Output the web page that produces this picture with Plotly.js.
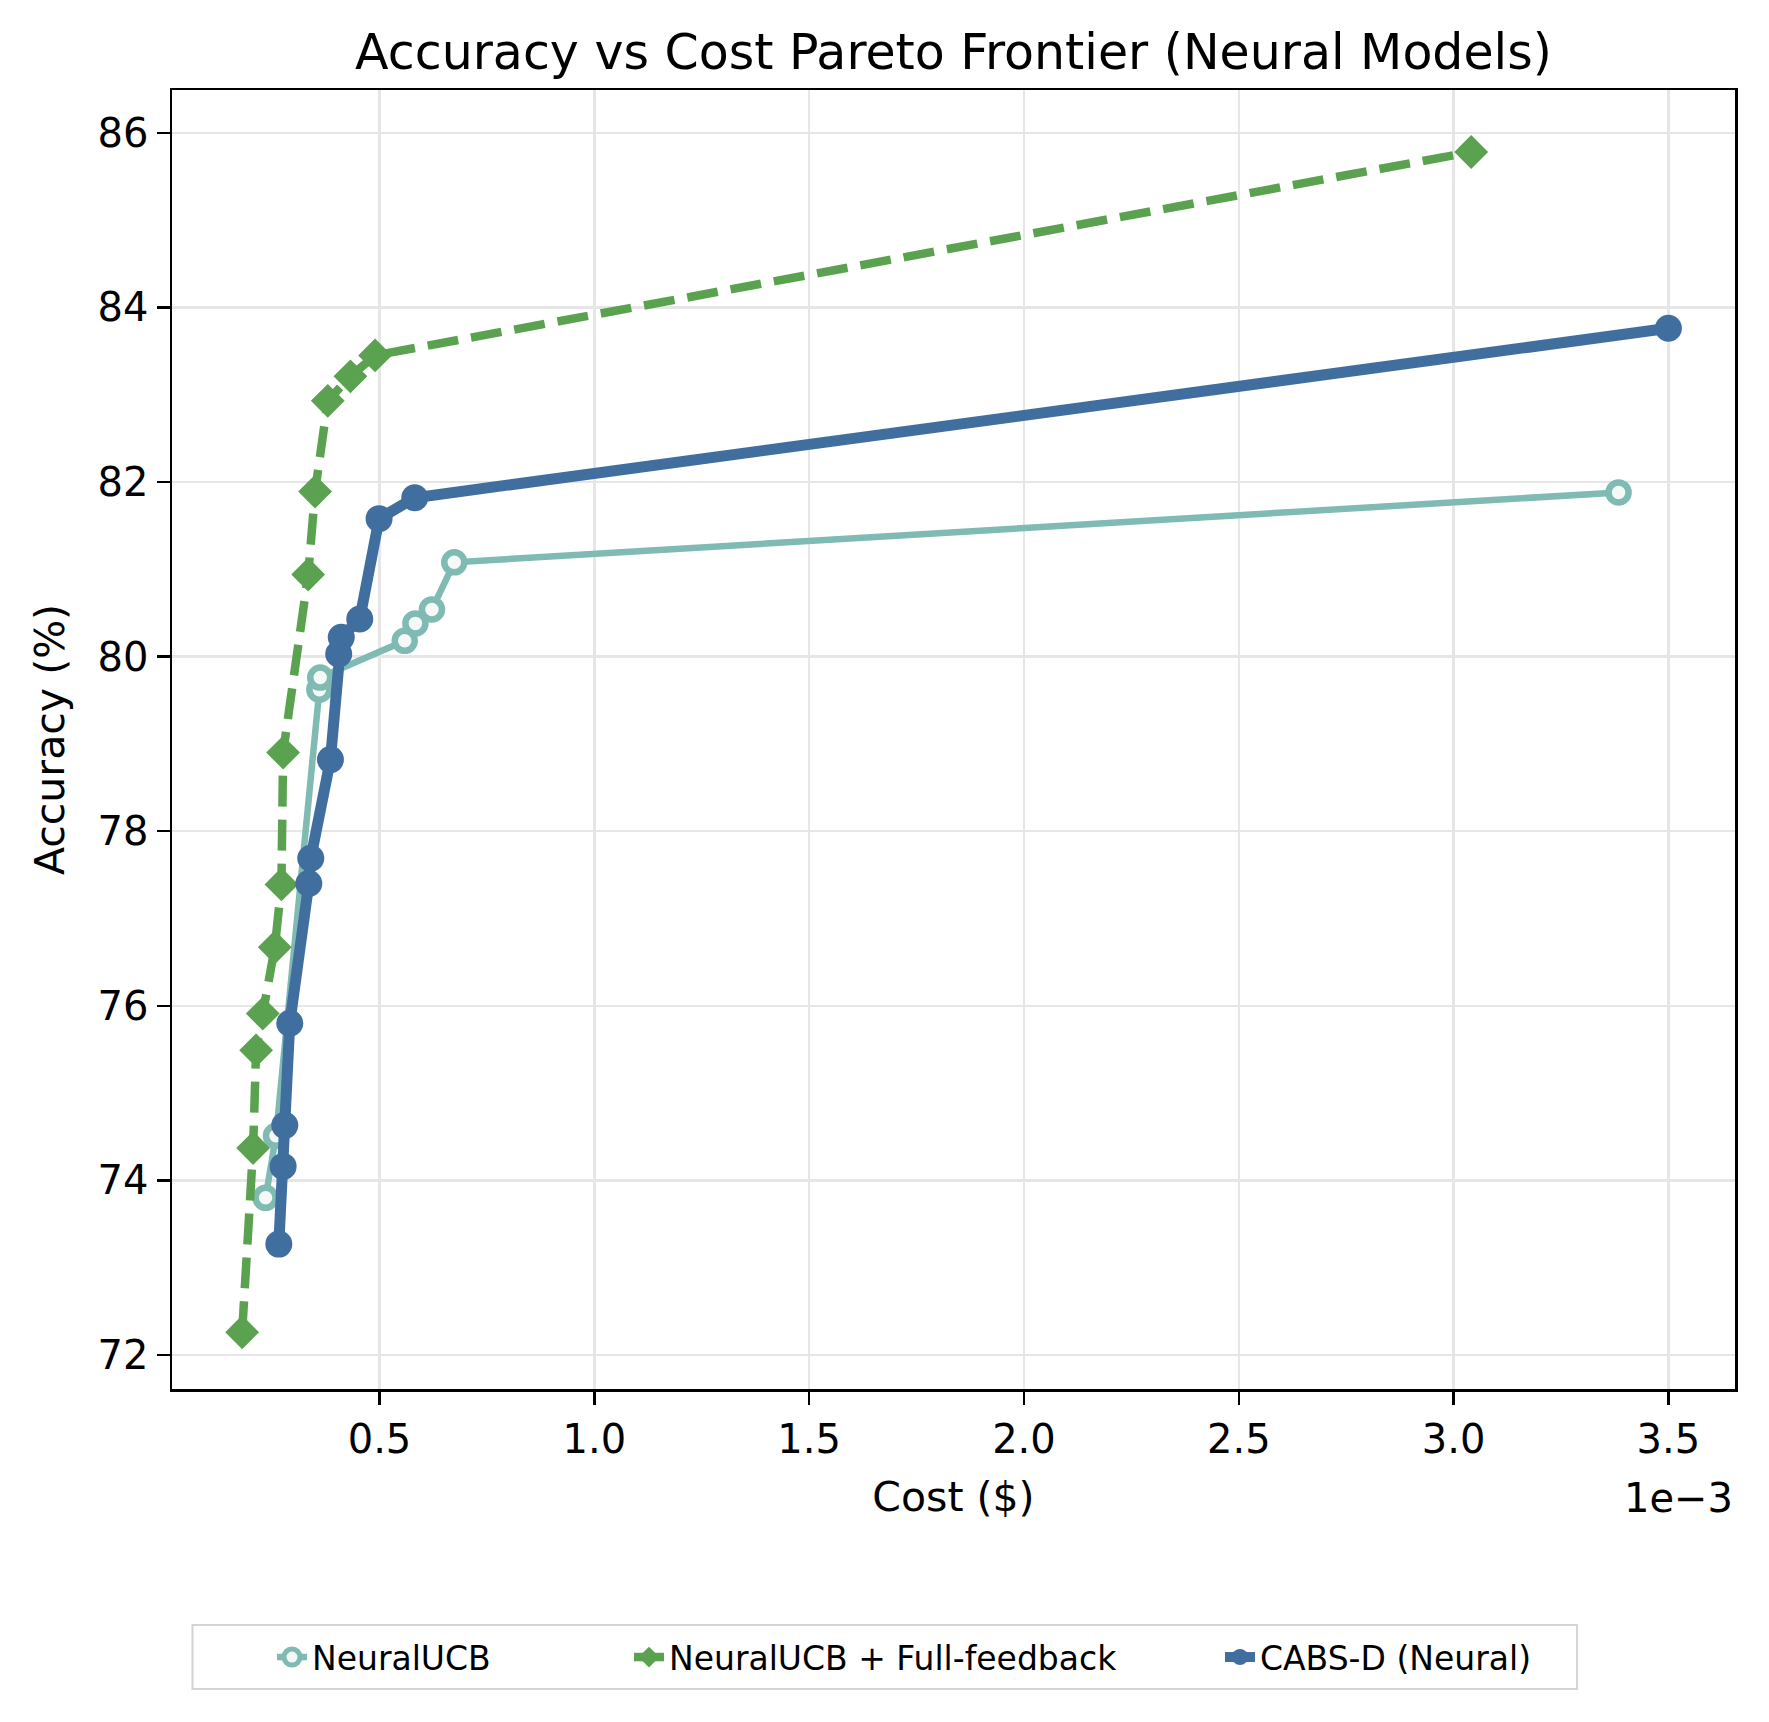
<!DOCTYPE html>
<html>
<head>
<meta charset="utf-8">
<script src="https://cdn.plot.ly/plotly-3.0.1.min.js"></script>
<style>
  html, body { margin: 0; padding: 0; background: #ffffff; }
  #chart { width: 1769px; height: 1722px; }
</style>
</head>
<body>
<div id="chart"></div>
<script>
// Cost per query (in $) and accuracy (%) for each method's Pareto frontier
const neuralUcbCost = [0.0002348, 0.000259, 0.000360, 0.000362, 0.0005587, 0.0005835, 0.000622, 0.000674, 0.003384];
const neuralUcbAcc  = [73.80, 74.51, 79.62, 79.76, 80.18, 80.38, 80.54, 81.08, 81.88];

const fullFeedbackCost = [0.0001803, 0.0002058, 0.0002128, 0.0002283, 0.0002563, 0.0002717, 0.0002756, 0.000334, 0.000350, 0.0003796, 0.0004323, 0.0004897, 0.003041];
const fullFeedbackAcc  = [72.26, 74.37, 75.49, 75.91, 76.67, 77.39, 78.90, 80.94, 81.89, 82.93, 83.21, 83.45, 85.78];

const cabsCost = [0.0002656, 0.0002756, 0.0002795, 0.0002911, 0.0003354, 0.000340, 0.0003858, 0.000405, 0.000411, 0.000454, 0.000499, 0.000582, 0.0035];
const cabsAcc  = [73.27, 74.16, 74.63, 75.80, 77.40, 77.69, 78.82, 80.03, 80.22, 80.43, 81.58, 81.82, 83.76];

const seriesNames = ['NeuralUCB', 'NeuralUCB + Full-feedback', 'CABS-D (Neural)'];

// x ticks are shown in units of the offset factor
const costTickScale = 1e-3;
const costTickLabels = ['0.5', '1.0', '1.5', '2.0', '2.5', '3.0', '3.5'];
const costOffsetText = '1e\u22123';
const accTicks = [72, 74, 76, 78, 80, 82, 84, 86];

const FONT = 'DejaVu Sans, Liberation Sans, sans-serif';
const TEAL = '#7fbab3';
const GREEN = '#5aa250';
const BLUE = '#406f9f';

const traces = [
  {
    x: neuralUcbCost, y: neuralUcbAcc, name: seriesNames[0],
    type: 'scatter', mode: 'lines+markers', legend: 'legend', showlegend: true,
    line: { color: TEAL, width: 6.5 },
    marker: { symbol: 'circle', size: 20, color: '#f4f9f8', line: { color: TEAL, width: 6.5 } }
  },
  {
    x: fullFeedbackCost, y: fullFeedbackAcc, name: seriesNames[1],
    type: 'scatter', mode: 'lines+markers', legend: 'legend2', showlegend: true,
    line: { color: GREEN, width: 8.5, dash: '31px,13px' },
    marker: { symbol: 'diamond', size: 26, color: GREEN }
  },
  {
    x: cabsCost, y: cabsAcc, name: seriesNames[2],
    type: 'scatter', mode: 'lines+markers', legend: 'legend3', showlegend: true,
    line: { color: BLUE, width: 11 },
    marker: { symbol: 'circle', size: 27, color: BLUE }
  }
];

const tickVals = costTickLabels.map(t => parseFloat(t) * costTickScale);

const legendCommon = {
  orientation: 'h', xref: 'container', yref: 'container',
  yanchor: 'middle', y: 0.0377, xanchor: 'left',
  bgcolor: 'rgba(0,0,0,0)', borderwidth: 0,
  font: { family: FONT, size: 33, color: '#000' }
};

const layout = {
  width: 1769, height: 1722,
  showlegend: true,
  paper_bgcolor: '#ffffff', plot_bgcolor: '#ffffff',
  margin: { l: 171.5, r: 34, t: 90, b: 333 },
  font: { family: FONT, color: '#000' },
  title: {
    text: 'Accuracy vs Cost Pareto Frontier (Neural Models)',
    font: { family: FONT, size: 49, color: '#000' },
    x: 0.5, xref: 'paper', xanchor: 'center',
    y: 1 - 52 / 1722, yref: 'container', yanchor: 'middle'
  },
  xaxis: {
    range: [0.000017, 0.003655],
    tickvals: tickVals, ticktext: costTickLabels,
    ticks: 'outside', ticklen: 13, tickwidth: 2.5, tickcolor: '#000',
    tickfont: { family: FONT, size: 40, color: '#000' },
    showgrid: true, gridcolor: '#e6e6e6', gridwidth: 2.5,
    showline: true, linecolor: '#000', linewidth: 2.5, mirror: true,
    zeroline: false,
    title: { text: 'Cost ($)', font: { family: FONT, size: 41, color: '#000' }, standoff: 22 }
  },
  yaxis: {
    range: [71.61, 86.49],
    tickvals: accTicks,
    ticks: 'outside', ticklen: 13, tickwidth: 2.5, tickcolor: '#000',
    tickfont: { family: FONT, size: 40, color: '#000' },
    showgrid: true, gridcolor: '#e6e6e6', gridwidth: 2.5,
    showline: true, linecolor: '#000', linewidth: 2.5, mirror: true,
    zeroline: false,
    title: { text: 'Accuracy (%)', font: { family: FONT, size: 41, color: '#000' }, standoff: 20 }
  },
  legend: Object.assign({}, legendCommon, { x: 272 / 1769 }),
  legend2: Object.assign({}, legendCommon, { x: 629 / 1769 }),
  legend3: Object.assign({}, legendCommon, { x: 1220 / 1769 }),
  shapes: [{
    type: 'rect', xref: 'paper', yref: 'paper',
    x0: (192 - 171.5) / 1563.5, x1: (1577 - 171.5) / 1563.5,
    y0: (1389 - 1689) / 1299, y1: (1389 - 1625) / 1299,
    line: { color: '#d4d4d4', width: 2 }, fillcolor: 'rgba(255,255,255,0.8)', layer: 'below'
  }],
  annotations: [{
    text: costOffsetText, xref: 'paper', yref: 'paper',
    x: 1.0, y: (1389 - 1498) / 1299, xanchor: 'right', yanchor: 'middle',
    showarrow: false, font: { family: FONT, size: 40, color: '#000' }
  }]
};

Plotly.newPlot('chart', traces, layout, { displayModeBar: false, staticPlot: true });
</script>
</body>
</html>
